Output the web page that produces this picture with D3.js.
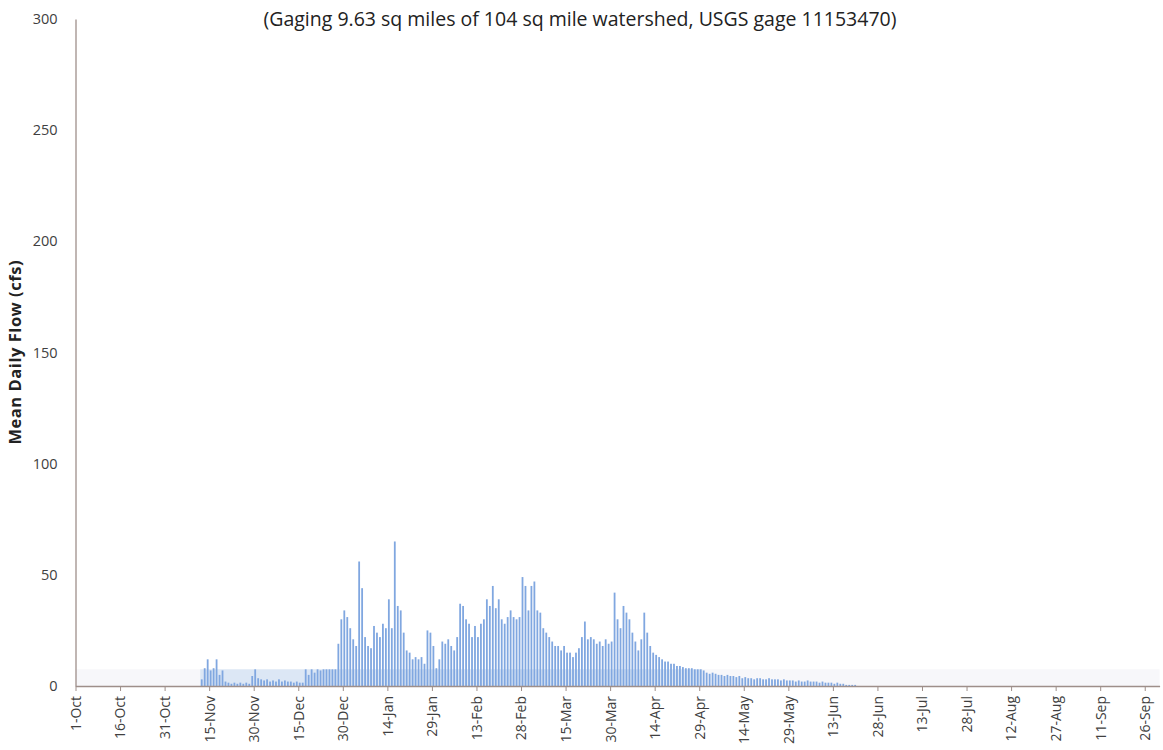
<!DOCTYPE html>
<html>
<head>
<meta charset="utf-8">
<script src="https://cdn.jsdelivr.net/npm/d3@7"></script>
<style>
  body { margin: 0; background: #fff; }
  svg { display: block; }
  text { font-family: "Open Sans", "Noto Sans", sans-serif; }
</style>
</head>
<body>
<svg id="chart" width="1163" height="750"></svg>
<script>
// Mean daily flow (cfs), one array per month of the water year (Oct 1 - Sep 30)
const flowOct = [0,0,0,0,0,0,0,0,0,0,0,0,0,0,0,0,0,0,0,0,0,0,0,0,0,0,0,0,0,0,0];
const flowNov = [0,0,0,0,0,0,0,0,0,0,0,3,8,12,7,8,12,5,7,2,1.5,1,1.5,1,1.5,1,1.5,1,4.5,7.5];
const flowDec = [3.5,3,2.5,3,2,2.5,2,3,2,2.5,2,2,1.5,2,1.5,1.5,7.5,5,7.5,6,7.5,7,7.5,7.5,7.5,7.5,7.5,19,30,34,31];
const flowJan = [26,21,18,56,44,22,18,17,27,24,22,28,26,39,26,65,36,34,24,16,15,12,13,12,13,10,25,24,18,8,12];
const flowFeb = [20,19,21,18,16,22,37,36,30,28,22,27,22,28,30,39,36,45,35,39,30,28,31,34,31,30,31,49];
const flowMar = [45,34,45,47,34,33,26,24,22,20,18,18,16,18,15,15,13,15,17,22,29,21,22,21,19,20,18,21,19,20,42];
const flowApr = [30,26,36,33,30,24,20,16,21,33,24,18,15,14,13,12,11,11,10,10,9,9,8.5,8,8,8,7.5,7.5,7.5,7];
const flowMay = [6,5.5,6,5.5,5,5,4.5,5,4.5,4.5,4,4.5,3.5,4,3.5,3.5,3,3.5,3.5,3,3,3.5,3,3,3,2.5,3,2.5,2.5,2.5,2];
const flowJun = [2.5,2,2,2.5,2,2,2,1.5,2,1.5,1.5,1.5,1,1.5,1,1,0.5,0.5,0.5,0.5,0,0,0,0,0,0,0,0,0,0];
const flowJul = [0,0,0,0,0,0,0,0,0,0,0,0,0,0,0,0,0,0,0,0,0,0,0,0,0,0,0,0,0,0,0];
const flowAug = [0,0,0,0,0,0,0,0,0,0,0,0,0,0,0,0,0,0,0,0,0,0,0,0,0,0,0,0,0,0,0];
const flowSep = [0,0,0,0,0,0,0,0,0,0,0,0,0,0,0,0,0,0,0,0,0,0,0,0,0,0,0,0,0,0];

// Low-flow reference level and the periods it is shown for
const bandLevel = 7.5;
const bandStart = ["2013-10-01", "2013-11-12"];
const bandEnd   = ["2014-10-01", "2014-04-30"];

const yTicks = [0, 50, 100, 150, 200, 250, 300];
const tickDates = ["2013-10-01","2013-10-16","2013-10-31","2013-11-15","2013-11-30","2013-12-15",
  "2013-12-30","2014-01-14","2014-01-29","2014-02-13","2014-02-28","2014-03-15","2014-03-30",
  "2014-04-14","2014-04-29","2014-05-14","2014-05-29","2014-06-13","2014-06-28","2014-07-13",
  "2014-07-28","2014-08-12","2014-08-27","2014-09-11","2014-09-26"];

const titleText = "(Gaging 9.63 sq miles of 104 sq mile watershed, USGS gage 11153470)";
const yTitle = "Mean Daily Flow (cfs)";

(function draw() {
  const parse = d3.utcParse("%Y-%m-%d");
  const fmt = d3.utcFormat("%-d-%b");
  const yearStart = parse("2013-10-01");
  const yearEnd = parse("2014-10-01");

  const flows = [].concat(flowOct, flowNov, flowDec, flowJan, flowFeb, flowMar,
                          flowApr, flowMay, flowJun, flowJul, flowAug, flowSep);
  const daily = flows.map((v, i) => ({ date: d3.utcDay.offset(yearStart, i), value: v }));

  const svg = d3.select("#chart");
  const plotLeft = 75.5, plotRight = 1159.6, plotTop = 19, plotBottom = 686;

  const x = d3.scaleUtc().domain([yearStart, yearEnd]).range([plotLeft, plotRight]);
  const y = d3.scaleLinear().domain([0, 300]).range([plotBottom, plotTop]);

  // title
  svg.append("text")
    .attr("x", 580).attr("y", 26)
    .attr("text-anchor", "middle")
    .attr("font-size", 19.5)
    .attr("fill", "#222")
    .text(titleText);

  // low-flow band
  const bandFills = ["#f7f7fa", "#dce7f5"];
  bandStart.forEach((s, i) => {
    const x0 = x(parse(s)), x1 = x(parse(bandEnd[i]));
    svg.append("rect")
      .attr("x", x0).attr("width", x1 - x0)
      .attr("y", y(bandLevel)).attr("height", y(0) - y(bandLevel))
      .attr("fill", bandFills[i]);
  });

  // daily bars
  const barW = 1.8;
  svg.append("g").selectAll("rect")
    .data(daily.filter(d => d.value > 0))
    .join("rect")
    .attr("x", d => {
      const x0 = x(d.date), x1 = x(d3.utcDay.offset(d.date, 1));
      return (x0 + x1) / 2 - barW / 2;
    })
    .attr("width", barW)
    .attr("y", d => y(d.value))
    .attr("height", d => y(0) - y(d.value))
    .attr("fill", "#80a7e0");

  // y axis
  const yAxis = svg.append("g")
    .attr("transform", `translate(${plotLeft},0)`)
    .call(d3.axisLeft(y).tickValues(yTicks).tickSize(0).tickPadding(18));
  yAxis.select(".domain").attr("stroke", "#9e8f8a").attr("stroke-width", 1.3);
  yAxis.selectAll("text").attr("font-size", 14.5).attr("fill", "#404040");

  // x axis
  const xAxis = svg.append("g")
    .attr("transform", `translate(0,${plotBottom})`)
    .call(d3.axisBottom(x).tickValues(tickDates.map(parse)).tickFormat(fmt)
          .tickSize(5).tickSizeOuter(0));
  xAxis.select(".domain").attr("stroke", "#9e8f8a").attr("stroke-width", 1.3);
  xAxis.selectAll(".tick line").attr("stroke", "#9e8f8a");
  xAxis.selectAll("text")
    .attr("transform", "rotate(-90)")
    .attr("text-anchor", "end")
    .attr("x", -10).attr("y", 0).attr("dy", "0.35em")
    .attr("font-size", 14).attr("fill", "#404040");

  // y axis title
  svg.append("text")
    .attr("transform", `translate(21,${(plotTop + plotBottom) / 2}) rotate(-90)`)
    .attr("text-anchor", "middle")
    .attr("font-size", 16.5)
    .attr("font-weight", "bold")
    .attr("textLength", 184)
    .attr("lengthAdjust", "spacing")
    .attr("fill", "#222")
    .text(yTitle);
})();
</script>
</body>
</html>
